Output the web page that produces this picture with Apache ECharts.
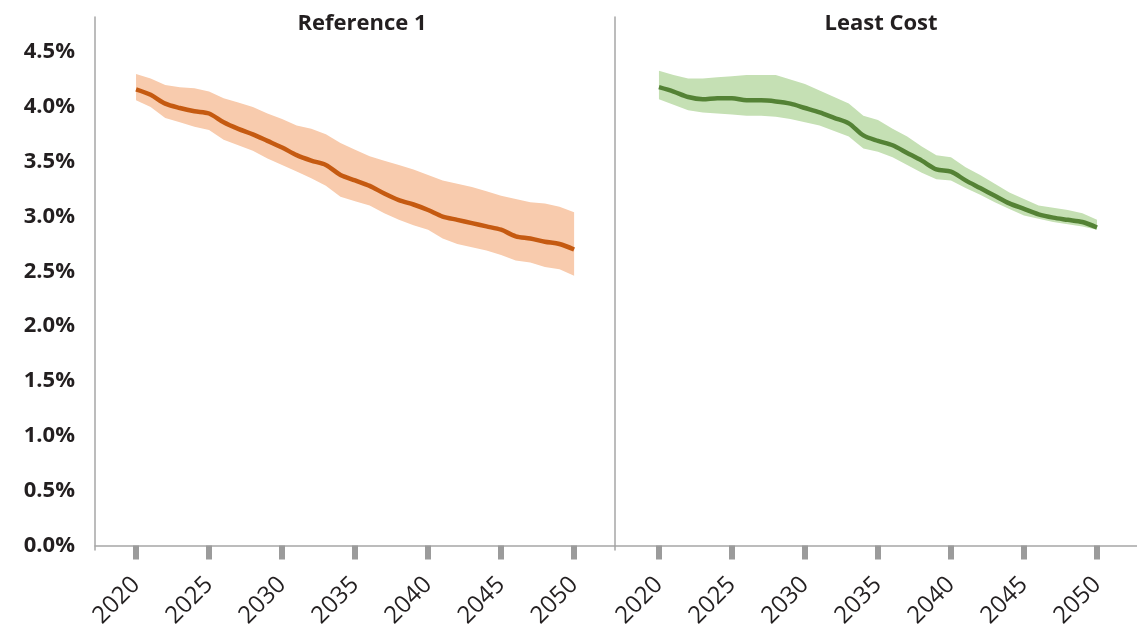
<!DOCTYPE html>
<html>
<head>
<meta charset="utf-8">
<script src="https://cdn.jsdelivr.net/npm/echarts@6/dist/echarts.min.js"></script>
<style>
  html, body { margin: 0; padding: 0; background: #fff; }
  #chart { width: 1137px; height: 634px; }
</style>
</head>
<body>
<div id="chart"></div>
<script>
  // years on the x axis
  var years = [2020, 2021, 2022, 2023, 2024, 2025, 2026, 2027, 2028, 2029, 2030,
    2031, 2032, 2033, 2034, 2035, 2036, 2037, 2038, 2039, 2040,
    2041, 2042, 2043, 2044, 2045, 2046, 2047, 2048, 2049, 2050];
  var yearTicks = [2020, 2025, 2030, 2035, 2040, 2045, 2050];
  var pctTicks = [0, 0.5, 1, 1.5, 2, 2.5, 3, 3.5, 4, 4.5];

  // Reference 1 (%)
  var ref1Mid = [4.16, 4.11, 4.03, 3.99, 3.96, 3.94, 3.86, 3.80, 3.75, 3.69, 3.63,
    3.56, 3.51, 3.47, 3.38, 3.33, 3.28, 3.21, 3.15, 3.11, 3.06,
    3.00, 2.97, 2.94, 2.91, 2.88, 2.82, 2.80, 2.77, 2.75, 2.70];
  var ref1Hi = [4.30, 4.26, 4.20, 4.18, 4.17, 4.14, 4.08, 4.04, 4.00, 3.94, 3.89,
    3.83, 3.80, 3.75, 3.67, 3.61, 3.55, 3.51, 3.47, 3.43, 3.38,
    3.33, 3.30, 3.27, 3.23, 3.19, 3.16, 3.13, 3.12, 3.09, 3.04];
  var ref1Lo = [4.06, 4.00, 3.90, 3.86, 3.82, 3.79, 3.70, 3.65, 3.60, 3.53, 3.47,
    3.41, 3.35, 3.28, 3.18, 3.14, 3.10, 3.03, 2.97, 2.92, 2.88,
    2.80, 2.75, 2.72, 2.69, 2.65, 2.60, 2.58, 2.54, 2.52, 2.46];

  // Least Cost (%)
  var lcMid = [4.18, 4.14, 4.09, 4.07, 4.08, 4.08, 4.06, 4.06, 4.05, 4.03, 3.99,
    3.95, 3.90, 3.85, 3.74, 3.69, 3.65, 3.58, 3.51, 3.43, 3.41,
    3.33, 3.26, 3.19, 3.12, 3.07, 3.02, 2.99, 2.97, 2.95, 2.90];
  var lcHi = [4.33, 4.29, 4.26, 4.26, 4.27, 4.28, 4.29, 4.29, 4.29, 4.25, 4.21,
    4.15, 4.09, 4.03, 3.92, 3.88, 3.80, 3.73, 3.64, 3.56, 3.54,
    3.45, 3.38, 3.30, 3.22, 3.16, 3.10, 3.08, 3.06, 3.03, 2.97];
  var lcLo = [4.07, 4.02, 3.97, 3.95, 3.94, 3.93, 3.92, 3.92, 3.91, 3.89, 3.86,
    3.83, 3.78, 3.73, 3.62, 3.59, 3.54, 3.47, 3.40, 3.34, 3.33,
    3.26, 3.20, 3.13, 3.07, 3.01, 2.98, 2.95, 2.93, 2.91, 2.88];

  var FONT = '"Open Sans", Lato, sans-serif';
  var TEXT = '#231f20';
  var AXIS = '#a6a6a6';

  function pairs(vals) {
    return years.map(function (y, i) { return [y, vals[i]]; });
  }

  function xAxis(idx, min, max) {
    return {
      type: 'value', gridIndex: idx, min: min, max: max,
      splitLine: {show: false},
      axisLine: {show: true, lineStyle: {color: AXIS, width: 1.5}},
      axisTick: {show: true, customValues: yearTicks, length: 14, lineStyle: {color: '#9b9b9b', width: 6}},
      axisLabel: {
        customValues: yearTicks, rotate: 45, margin: 31,
        fontFamily: FONT, fontSize: 24, color: TEXT,
        formatter: function (v) { return String(Math.round(v)); }
      }
    };
  }
  function yAxis(idx, showLabels) {
    return {
      type: 'value', gridIndex: idx, min: -0.041, max: 4.82,
      splitLine: {show: false},
      axisLine: {show: true, lineStyle: {color: AXIS, width: 1.5}},
      axisTick: {show: false},
      axisLabel: {
        show: showLabels, customValues: pctTicks, margin: 20,
        fontFamily: FONT, fontSize: 22, fontWeight: 'bold', color: TEXT,
        formatter: function (v) { return v.toFixed(1) + '%'; }
      }
    };
  }

  // shaded range between lo and hi, drawn as one polygon through the axes
  function band(idx, hi, lo, color) {
    return {
      type: 'custom', xAxisIndex: idx, yAxisIndex: idx, silent: true, z: 1,
      data: years.map(function (y, i) { return [y, lo[i], hi[i]]; }),
      encode: {x: 0, y: [1, 2]},
      renderItem: function (params, api) {
        if (params.dataIndex !== 0) return null;
        var pts = [];
        for (var i = 0; i < years.length; i++) pts.push(api.coord([years[i], hi[i]]));
        for (var j = years.length - 1; j >= 0; j--) pts.push(api.coord([years[j], lo[j]]));
        return {type: 'polygon', shape: {points: pts}, style: {fill: color}};
      }
    };
  }

  var chart = echarts.init(document.getElementById('chart'));
  chart.setOption({
    animation: false,
    backgroundColor: '#ffffff',
    grid: [
      {left: 95, top: 17, width: 520, height: 533, outerBoundsMode: 'none'},
      {left: 615, top: 17, width: 522, height: 533, outerBoundsMode: 'none'}
    ],
    graphic: [
      {type: 'text', x: 362, y: 24, style: {text: 'Reference 1', fontFamily: FONT, fontSize: 22, fontWeight: 'bold', fill: TEXT, align: 'center', verticalAlign: 'middle'}},
      {type: 'text', x: 881, y: 24, style: {text: 'Least Cost', fontFamily: FONT, fontSize: 22, fontWeight: 'bold', fill: TEXT, align: 'center', verticalAlign: 'middle'}}
    ],
    xAxis: [xAxis(0, 2017.19, 2052.8), xAxis(1, 2016.99, 2052.74)],
    yAxis: [yAxis(0, true), yAxis(1, false)],
    series: [
      band(0, ref1Hi, ref1Lo, '#f8cbad'),
      {
        name: 'Reference 1', type: 'line', xAxisIndex: 0, yAxisIndex: 0, z: 3,
        data: pairs(ref1Mid), symbol: 'none', smooth: 0.3,
        lineStyle: {color: '#c55a11', width: 4.5}
      },
      band(1, lcHi, lcLo, '#c5e0b4'),
      {
        name: 'Least Cost', type: 'line', xAxisIndex: 1, yAxisIndex: 1, z: 3,
        data: pairs(lcMid), symbol: 'none', smooth: 0.3,
        lineStyle: {color: '#548235', width: 4.5}
      }
    ]
  });
</script>
</body>
</html>
